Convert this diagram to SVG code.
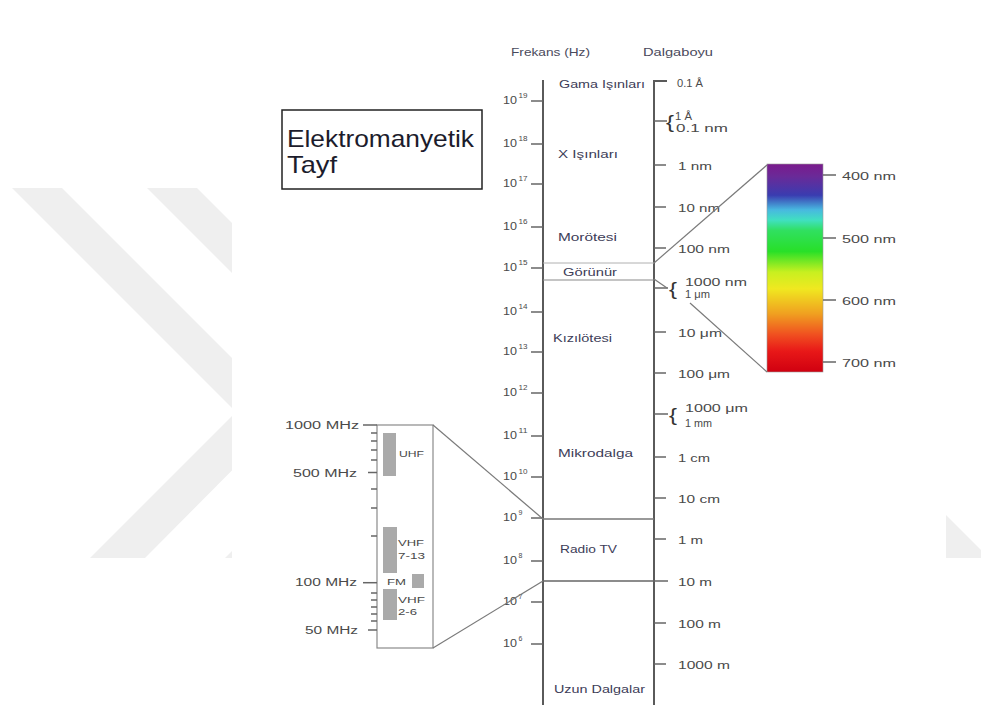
<svg xmlns="http://www.w3.org/2000/svg" width="981" height="711" viewBox="0 0 981 711">
<defs>
<style>
text{font-family:"Liberation Sans",Arial,sans-serif}
.wm{fill:#efefef}
.ax{stroke:#5a5a5a;stroke-width:2;fill:none}
.tk{stroke:#666;stroke-width:1.5}
.lbl{font-size:10px;fill:#4a4a4a}
.band{font-size:11.5px;fill:#3d3d58}
.hdr{font-size:11px;fill:#4a4a5c}
.freq{font-size:10.5px;fill:#4a4a4a}
.sup{font-size:7px;fill:#4a4a4a}
.brace{font-size:19px;fill:#333}
.conn{stroke:#7a7a7a;stroke-width:1.2;fill:none}
.bar{fill:#aaaaaa}
.rl{font-size:10px;fill:#4a4a4a}
.sl{font-size:9px;fill:#4a4a4a}
</style>
<linearGradient id="spec" x1="0" y1="0" x2="0" y2="1">
<stop offset="0" stop-color="#7a1a8c"/>
<stop offset="0.06" stop-color="#6a2a98"/>
<stop offset="0.15" stop-color="#3a3cb0"/>
<stop offset="0.22" stop-color="#48b8e0"/>
<stop offset="0.27" stop-color="#40e0c0"/>
<stop offset="0.32" stop-color="#30e060"/>
<stop offset="0.42" stop-color="#28e028"/>
<stop offset="0.52" stop-color="#c8f020"/>
<stop offset="0.60" stop-color="#f0e820"/>
<stop offset="0.72" stop-color="#f0a020"/>
<stop offset="0.82" stop-color="#f05020"/>
<stop offset="0.90" stop-color="#e81818"/>
<stop offset="1" stop-color="#d00010"/>
</linearGradient>
</defs>
<rect width="981" height="711" fill="#ffffff"/>
<g id="watermark">
<polygon class="wm" points="12,188 62,188 288,414 145,558 90,558 236,412"/>
<polygon class="wm" points="147,188 197,188 423,414 280,558 225,558 371,412"/>
<polygon class="wm" points="946,515 981,550 981,558 946,558"/>
<rect x="232" y="0" width="714" height="711" fill="#ffffff"/>
</g>

<g id="title">
<rect x="282" y="110" width="200" height="79" fill="#ffffff" stroke="#222" stroke-width="1.5"/>
<text x="287" y="147" font-size="24" fill="#1c1c2c" textLength="187" lengthAdjust="spacingAndGlyphs">Elektromanyetik</text>
<text x="287" y="173" font-size="24" fill="#1c1c2c" textLength="50" lengthAdjust="spacingAndGlyphs">Tayf</text>
</g>

<g id="headers">
<text class="hdr" x="511" y="56" textLength="79" lengthAdjust="spacingAndGlyphs">Frekans (Hz)</text>
<text class="hdr" x="643" y="56" textLength="70" lengthAdjust="spacingAndGlyphs">Dalgaboyu</text>
</g>

<g id="frequency-axis">
<line class="ax" x1="543" y1="80" x2="543" y2="705"/>
<g class="tk">
<line x1="531" y1="101" x2="543" y2="101"/>
<line x1="531" y1="144" x2="543" y2="144"/>
<line x1="531" y1="184" x2="543" y2="184"/>
<line x1="531" y1="227" x2="543" y2="227"/>
<line x1="531" y1="268" x2="543" y2="268"/>
<line x1="531" y1="312" x2="543" y2="312"/>
<line x1="531" y1="352" x2="543" y2="352"/>
<line x1="531" y1="393" x2="543" y2="393"/>
<line x1="531" y1="436" x2="543" y2="436"/>
<line x1="531" y1="477" x2="543" y2="477"/>
<line x1="531" y1="518" x2="543" y2="518"/>
<line x1="531" y1="561" x2="543" y2="561"/>
<line x1="531" y1="602" x2="543" y2="602"/>
<line x1="531" y1="644" x2="543" y2="644"/>
</g>
<text class="freq" x="503" y="103.5" textLength="14" lengthAdjust="spacingAndGlyphs">10</text><text class="sup" x="518.5" y="98" textLength="9" lengthAdjust="spacingAndGlyphs">19</text>
<text class="freq" x="503" y="146.5" textLength="14" lengthAdjust="spacingAndGlyphs">10</text><text class="sup" x="518.5" y="141" textLength="9" lengthAdjust="spacingAndGlyphs">18</text>
<text class="freq" x="503" y="186.5" textLength="14" lengthAdjust="spacingAndGlyphs">10</text><text class="sup" x="518.5" y="181" textLength="9" lengthAdjust="spacingAndGlyphs">17</text>
<text class="freq" x="503" y="229.5" textLength="14" lengthAdjust="spacingAndGlyphs">10</text><text class="sup" x="518.5" y="224" textLength="9" lengthAdjust="spacingAndGlyphs">16</text>
<text class="freq" x="503" y="270.5" textLength="14" lengthAdjust="spacingAndGlyphs">10</text><text class="sup" x="518.5" y="265" textLength="9" lengthAdjust="spacingAndGlyphs">15</text>
<text class="freq" x="503" y="314.5" textLength="14" lengthAdjust="spacingAndGlyphs">10</text><text class="sup" x="518.5" y="309" textLength="9" lengthAdjust="spacingAndGlyphs">14</text>
<text class="freq" x="503" y="354.5" textLength="14" lengthAdjust="spacingAndGlyphs">10</text><text class="sup" x="518.5" y="349" textLength="9" lengthAdjust="spacingAndGlyphs">13</text>
<text class="freq" x="503" y="395.5" textLength="14" lengthAdjust="spacingAndGlyphs">10</text><text class="sup" x="518.5" y="390" textLength="9" lengthAdjust="spacingAndGlyphs">12</text>
<text class="freq" x="503" y="438.5" textLength="14" lengthAdjust="spacingAndGlyphs">10</text><text class="sup" x="518.5" y="433" textLength="9" lengthAdjust="spacingAndGlyphs">11</text>
<text class="freq" x="503" y="479.5" textLength="14" lengthAdjust="spacingAndGlyphs">10</text><text class="sup" x="518.5" y="474" textLength="9" lengthAdjust="spacingAndGlyphs">10</text>
<text class="freq" x="503" y="520.5" textLength="14" lengthAdjust="spacingAndGlyphs">10</text><text class="sup" x="518.5" y="515">9</text>
<text class="freq" x="503" y="563.5" textLength="14" lengthAdjust="spacingAndGlyphs">10</text><text class="sup" x="518.5" y="558">8</text>
<text class="freq" x="503" y="604.5" textLength="14" lengthAdjust="spacingAndGlyphs">10</text><text class="sup" x="518.5" y="599">7</text>
<text class="freq" x="503" y="646.5" textLength="14" lengthAdjust="spacingAndGlyphs">10</text><text class="sup" x="518.5" y="641">6</text>
</g>

<g id="wavelength-axis">
<path class="ax" d="M667,81 H654 V705"/>
<g class="tk">
<line x1="654" y1="121" x2="667" y2="121"/>
<line x1="654" y1="165" x2="666" y2="165"/>
<line x1="654" y1="207" x2="666" y2="207"/>
<line x1="654" y1="248" x2="666" y2="248"/>
<line x1="654" y1="288" x2="668" y2="288"/>
<line x1="654" y1="332" x2="666" y2="332"/>
<line x1="654" y1="373" x2="666" y2="373"/>
<line x1="654" y1="414" x2="668" y2="414"/>
<line x1="654" y1="457" x2="666" y2="457"/>
<line x1="654" y1="498" x2="666" y2="498"/>
<line x1="654" y1="539" x2="666" y2="539"/>
<line x1="654" y1="623" x2="666" y2="623"/>
<line x1="654" y1="664" x2="666" y2="664"/>
</g>
<text class="lbl" x="677" y="87" textLength="26" lengthAdjust="spacingAndGlyphs">0.1 Å</text>
<text class="brace" x="666" y="128" textLength="8" lengthAdjust="spacingAndGlyphs">{</text>
<text class="lbl" x="675" y="120" textLength="17" lengthAdjust="spacingAndGlyphs">1 Å</text>
<text class="lbl" x="676" y="132" textLength="52" lengthAdjust="spacingAndGlyphs">0.1 nm</text>
<text class="lbl" x="678" y="169.5" textLength="34" lengthAdjust="spacingAndGlyphs">1 nm</text>
<text class="lbl" x="678" y="211.5" textLength="42" lengthAdjust="spacingAndGlyphs">10 nm</text>
<text class="lbl" x="678" y="252.5" textLength="52" lengthAdjust="spacingAndGlyphs">100 nm</text>
<text class="brace" x="669" y="295" textLength="8" lengthAdjust="spacingAndGlyphs">{</text>
<text class="lbl" x="685" y="285.5" textLength="62" lengthAdjust="spacingAndGlyphs">1000 nm</text>
<text class="lbl" x="685" y="298" textLength="25" lengthAdjust="spacingAndGlyphs">1 μm</text>
<text class="lbl" x="678" y="336.5" textLength="44" lengthAdjust="spacingAndGlyphs">10 μm</text>
<text class="lbl" x="678" y="377.5" textLength="52" lengthAdjust="spacingAndGlyphs">100 μm</text>
<text class="brace" x="669" y="421" textLength="8" lengthAdjust="spacingAndGlyphs">{</text>
<text class="lbl" x="685" y="412" textLength="63" lengthAdjust="spacingAndGlyphs">1000 μm</text>
<text class="lbl" x="685" y="427" textLength="27" lengthAdjust="spacingAndGlyphs">1 mm</text>
<text class="lbl" x="678" y="461.5" textLength="32" lengthAdjust="spacingAndGlyphs">1 cm</text>
<text class="lbl" x="678" y="502.5" textLength="42" lengthAdjust="spacingAndGlyphs">10 cm</text>
<text class="lbl" x="678" y="543.5" textLength="25" lengthAdjust="spacingAndGlyphs">1 m</text>
<text class="lbl" x="678" y="585.5" textLength="34" lengthAdjust="spacingAndGlyphs">10 m</text>
<text class="lbl" x="678" y="627.5" textLength="43" lengthAdjust="spacingAndGlyphs">100 m</text>
<text class="lbl" x="678" y="668.5" textLength="52" lengthAdjust="spacingAndGlyphs">1000 m</text>
</g>

<g id="bands">
<line x1="543" y1="263" x2="654" y2="263" stroke="#b0b0b0" stroke-width="1"/>
<line x1="543" y1="280" x2="654" y2="280" stroke="#8a8a8a" stroke-width="1.2"/>
<line x1="543" y1="519" x2="654" y2="519" stroke="#777" stroke-width="1.5"/>
<line x1="543" y1="581" x2="668" y2="581" stroke="#666" stroke-width="1.6"/>
<text class="band" x="559" y="88" textLength="86" lengthAdjust="spacingAndGlyphs">Gama Işınları</text>
<text class="band" x="558" y="158" textLength="60" lengthAdjust="spacingAndGlyphs">X Işınları</text>
<text class="band" x="558" y="241" textLength="59" lengthAdjust="spacingAndGlyphs">Morötesi</text>
<text class="band" x="563" y="276" textLength="54" lengthAdjust="spacingAndGlyphs">Görünür</text>
<text class="band" x="553" y="342" textLength="59" lengthAdjust="spacingAndGlyphs">Kızılötesi</text>
<text class="band" x="558" y="457" textLength="75" lengthAdjust="spacingAndGlyphs">Mikrodalga</text>
<text class="band" x="560" y="553" textLength="57" lengthAdjust="spacingAndGlyphs">Radio TV</text>
<text class="band" x="554" y="693" textLength="91" lengthAdjust="spacingAndGlyphs">Uzun Dalgalar</text>
</g>

<g id="visible-spectrum">
<rect x="767" y="164" width="56" height="208" fill="url(#spec)" stroke="#999" stroke-width="0.6"/>
<g class="tk">
<line x1="823" y1="175" x2="836" y2="175"/>
<line x1="823" y1="238" x2="836" y2="238"/>
<line x1="823" y1="300" x2="836" y2="300"/>
<line x1="823" y1="362" x2="836" y2="362"/>
</g>
<text class="lbl" x="842" y="179.5" textLength="54" lengthAdjust="spacingAndGlyphs">400 nm</text>
<text class="lbl" x="842" y="242.5" textLength="54" lengthAdjust="spacingAndGlyphs">500 nm</text>
<text class="lbl" x="842" y="304.5" textLength="54" lengthAdjust="spacingAndGlyphs">600 nm</text>
<text class="lbl" x="842" y="366.5" textLength="54" lengthAdjust="spacingAndGlyphs">700 nm</text>
</g>

<g id="radio-inset">
<rect x="377" y="425" width="56" height="223" fill="#ffffff" stroke="#8a8a8a" stroke-width="1.2"/>
<g class="tk">
<line x1="363" y1="425" x2="377" y2="425"/>
<line x1="363" y1="582.7" x2="377" y2="582.7"/>
<line x1="368" y1="472.5" x2="377" y2="472.5"/>
<line x1="368" y1="630" x2="377" y2="630"/>
<line x1="371" y1="433" x2="377" y2="433"/>
<line x1="371" y1="441" x2="377" y2="441"/>
<line x1="371" y1="450" x2="377" y2="450"/>
<line x1="371" y1="460" x2="377" y2="460"/>
<line x1="371" y1="489" x2="377" y2="489"/>
<line x1="371" y1="508" x2="377" y2="508"/>
<line x1="371" y1="536" x2="377" y2="536"/>
<line x1="371" y1="593" x2="377" y2="593"/>
<line x1="371" y1="600" x2="377" y2="600"/>
<line x1="371" y1="607" x2="377" y2="607"/>
<line x1="371" y1="614" x2="377" y2="614"/>
<line x1="371" y1="621" x2="377" y2="621"/>
</g>
<text class="rl" x="285" y="429" textLength="74" lengthAdjust="spacingAndGlyphs">1000 MHz</text>
<text class="rl" x="293" y="476.5" textLength="64" lengthAdjust="spacingAndGlyphs">500 MHz</text>
<text class="rl" x="295" y="586" textLength="62" lengthAdjust="spacingAndGlyphs">100 MHz</text>
<text class="rl" x="305" y="633.5" textLength="53" lengthAdjust="spacingAndGlyphs">50 MHz</text>
<rect class="bar" x="383" y="433" width="13" height="43"/>
<rect class="bar" x="383" y="527" width="14" height="46"/>
<rect class="bar" x="412" y="574" width="12" height="14"/>
<rect class="bar" x="383" y="589" width="14" height="31"/>
<text class="sl" x="399" y="457" textLength="25" lengthAdjust="spacingAndGlyphs">UHF</text>
<text class="sl" x="398" y="546" textLength="26" lengthAdjust="spacingAndGlyphs">VHF</text>
<text class="sl" x="398" y="559" textLength="27" lengthAdjust="spacingAndGlyphs">7-13</text>
<text class="sl" x="387" y="585" textLength="19" lengthAdjust="spacingAndGlyphs">FM</text>
<text class="sl" x="398" y="602.5" textLength="27" lengthAdjust="spacingAndGlyphs">VHF</text>
<text class="sl" x="398" y="615" textLength="19" lengthAdjust="spacingAndGlyphs">2-6</text>
</g>

<g id="connectors">
<line class="conn" x1="654" y1="263" x2="767" y2="165"/>
<line class="conn" x1="654" y1="279" x2="667" y2="288"/>
<line class="conn" x1="690" y1="303" x2="767" y2="372"/>
<line class="conn" x1="433" y1="425" x2="543" y2="519"/>
<line class="conn" x1="433" y1="648" x2="543" y2="581"/>
</g>
</svg>
